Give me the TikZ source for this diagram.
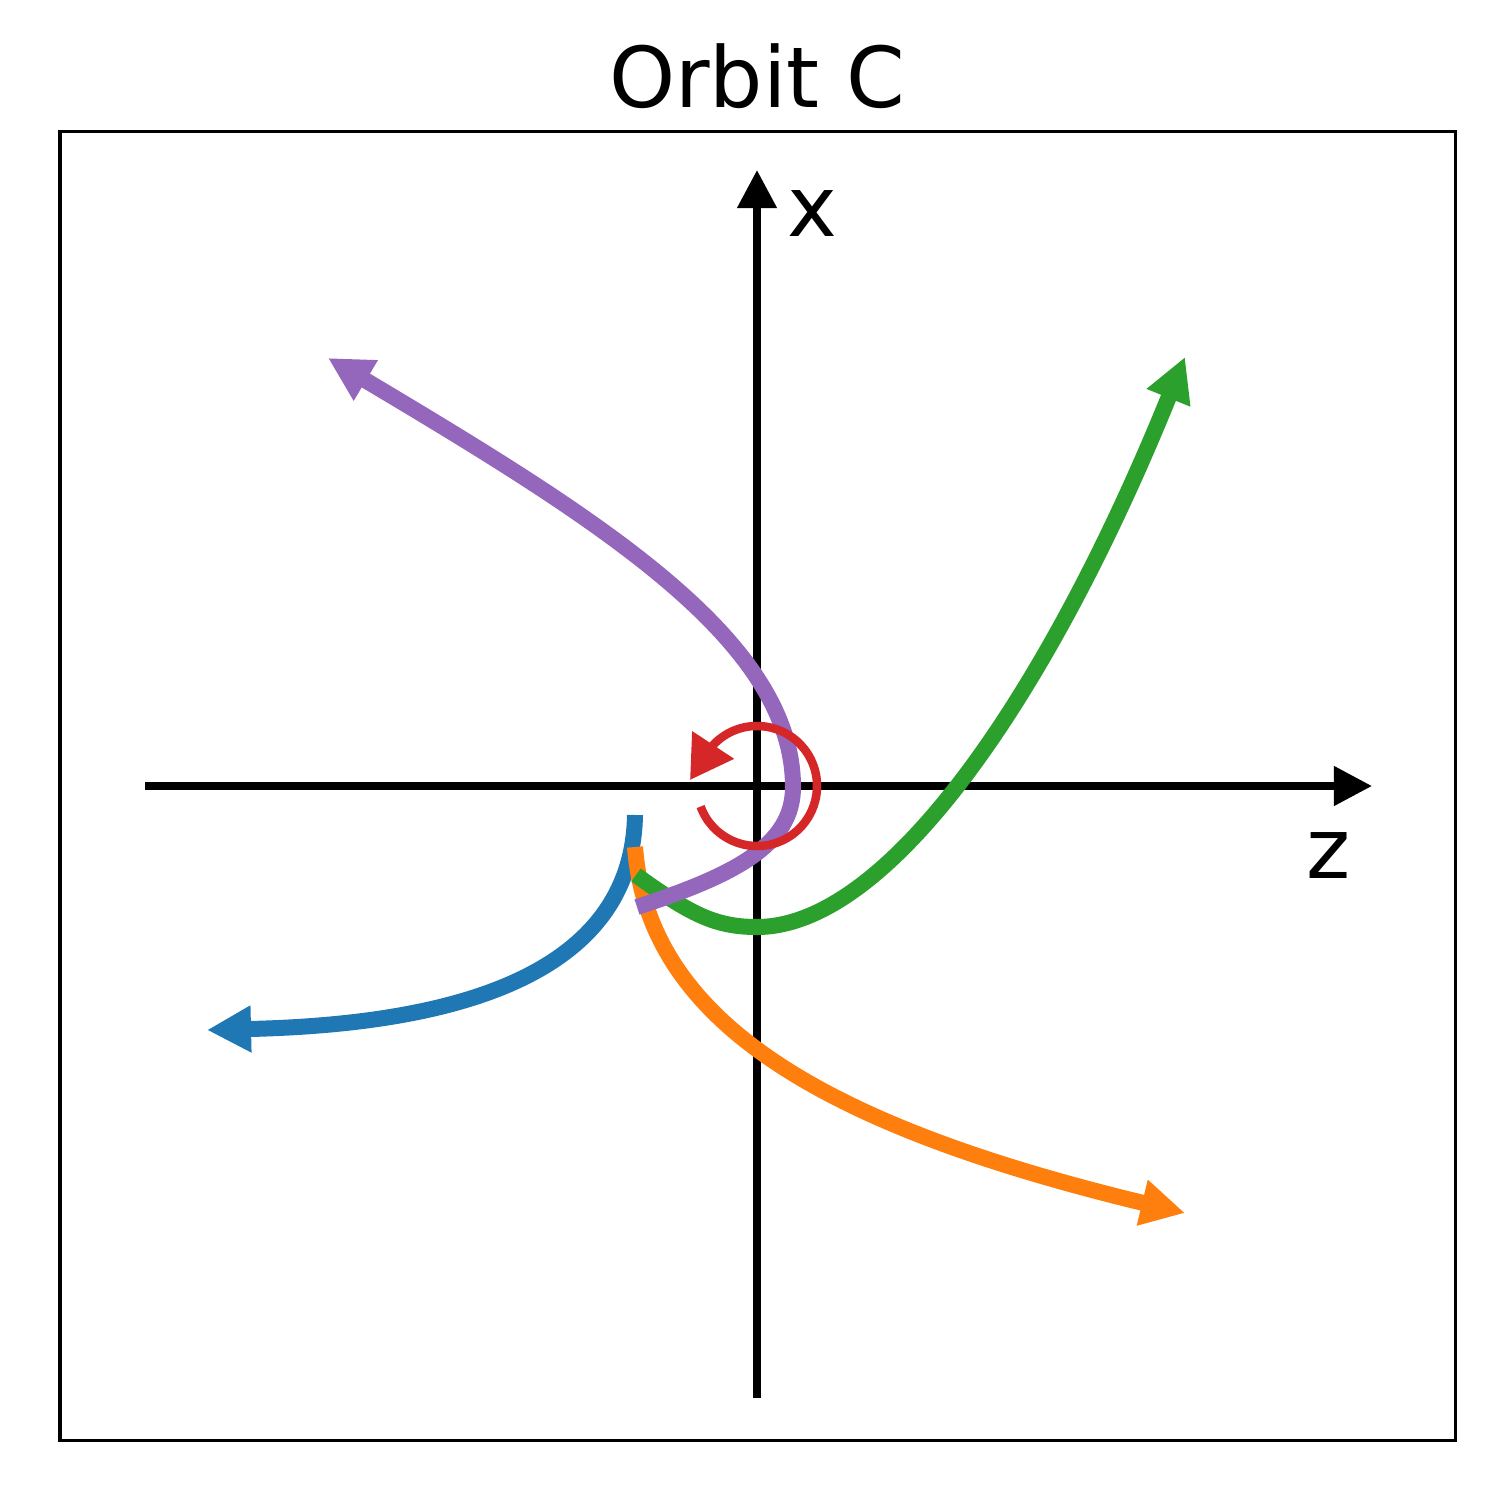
\documentclass[tikz,border=0pt]{standalone}
\usepackage{fontspec}
\setmainfont{DejaVu Sans}
\usepackage{tikz}
\usetikzlibrary{arrows.meta}
\definecolor{tabblue}{HTML}{1F77B4}
\definecolor{taborange}{HTML}{FF7F0E}
\definecolor{tabgreen}{HTML}{2CA02C}
\definecolor{tabred}{HTML}{D62728}
\definecolor{tabpurple}{HTML}{9467BD}

\begin{document}
\begin{tikzpicture}[x=0.01cm,y=-0.01cm,
		axis/.style={line width=0.075cm,-{Triangle[length=0.38cm,width=0.38cm]}},
		orbit/.style={line width=0.16cm,-{Triangle[length=0.44cm,width=0.44cm]}},
		spin/.style={tabred,line width=0.085cm,-{Triangle[length=0.42cm,width=0.48cm]}},
		lbl/.style={inner sep=0pt,anchor=base,font=\fontsize{23.9}{28}\selectfont}]
		\useasboundingbox (0,0) rectangle (1500,1500);
		%\draw [help lines,step=100] (0,0) grid (1500,1500);
		\draw[line width=0.03cm] (60,132) rectangle (1455,1440);
		\node[lbl] (title) at (757,108) {Orbit C};
		%axes
		\coordinate (origin) at (757,786);
		\coordinate (zstart) at (145,786);
		\coordinate (zend) at (1372,786);
		\coordinate (xstart) at (757,1398);
		\coordinate (xend) at (757,170);
		\draw[axis] (zstart) -- (zend);
		\draw[axis] (xstart) -- (xend);
		\node[lbl] (xlabel) at (812,237) {x};
		\node[lbl] (zlabel) at (1329,878) {z};
		%blue
		\coordinate (blue0) at (635,815);
		\coordinate (blue1) at (207,1030);
		\draw[orbit, tabblue] (blue0) .. controls (632,990) and (420,1025) .. (blue1);
		%orange
		\coordinate (orange0) at (635,847);
		\coordinate (orange1) at (1185,1213);
		\draw[orbit, taborange] (orange0) .. controls (648,1020) and (820,1125) .. (orange1);
		%green
		\coordinate (green0) at (636,875);
		\coordinate (greenlow) at (757,927);
		\coordinate (green1) at (1185,357);
		\draw[orbit, tabgreen] (green0) .. controls (690,914) and (715,927) .. (greenlow)
			.. controls (890,927) and (1050,690) .. (green1);
		%purple
		\coordinate (purple0) at (637,907);
		\coordinate (purpleright) at (793,787);
		\coordinate (purple1) at (328,358);
		\draw[orbit, tabpurple] (purple0) .. controls (735,875) and (793,845) .. (purpleright)
			.. controls (793,640) and (600,520) .. (purple1);
		%spin
		\coordinate (spintip) at (690,780);
		\draw[spin] ([shift={(200:0.6cm)}]origin) arc[start angle=200, end angle=497, radius=0.6cm] -- (spintip);
	\end{tikzpicture}
\end{document}
